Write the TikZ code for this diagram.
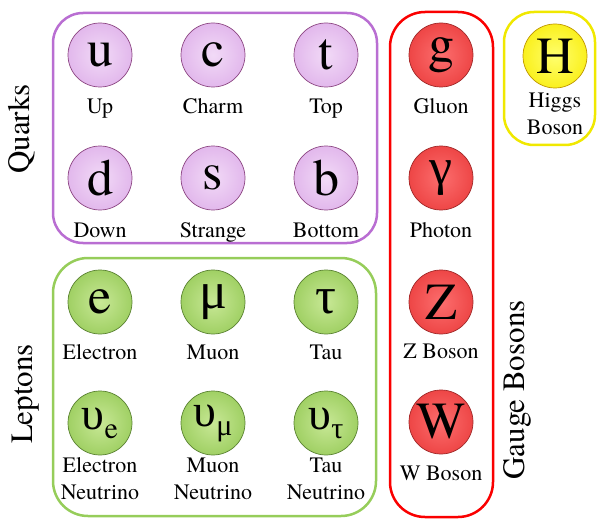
\documentclass[tikz,border=0pt]{standalone}
\usepackage{fontspec}
\setmainfont{TeX Gyre Termes}
\newfontfamily\greekfont{Liberation Serif}
\usetikzlibrary{positioning}
\definecolor{qbox}{RGB}{185,110,210}
\definecolor{qfill}{RGB}{226,184,236}
\definecolor{qlight}{RGB}{242,218,247}
\definecolor{qline}{RGB}{140,70,130}
\definecolor{lbox}{RGB}{150,205,90}
\definecolor{lfill}{RGB}{160,208,100}
\definecolor{llight}{RGB}{200,232,150}
\definecolor{lline}{RGB}{90,130,50}
\definecolor{gbox}{RGB}{250,0,0}
\definecolor{gfill}{RGB}{238,70,70}
\definecolor{glight}{RGB}{252,110,110}
\definecolor{gline}{RGB}{160,40,40}
\definecolor{hbox}{RGB}{240,232,0}
\definecolor{hfill}{RGB}{250,240,30}
\definecolor{hlight}{RGB}{255,255,110}
\definecolor{hline}{RGB}{190,150,0}
\tikzset{
    particle/.style={circle, line width=0.7pt, minimum size=64pt, inner sep=0pt,
        font=\fontsize{52}{52}\selectfont},
    quark/.style={particle, draw=qline, inner color=qlight, outer color=qfill},
    lepton/.style={particle, draw=lline, inner color=llight, outer color=lfill},
    gauge/.style={particle, draw=gline, inner color=glight, outer color=gfill},
    higgs/.style={particle, draw=hline, inner color=hlight, outer color=hfill},
    pname/.style={inner sep=0pt, font=\fontsize{22}{27}\selectfont, text height=15pt, text depth=5pt},
    twoline/.style={inner sep=0pt, font=\fontsize{22}{27}\selectfont, align=center},
    grouplabel/.style={font=\fontsize{31}{31}\selectfont, rotate=90},
    groupframe/.style={line width=2.5pt, rounded corners=#1}
}
\newcommand{\gr}[1]{{\greekfont #1}}
\newcommand{\sub}[2]{{\fontsize{46}{46}\selectfont #1}{\fontsize{30}{30}\selectfont\raisebox{-9pt}{#2}}}

\begin{document}
\begin{tikzpicture}[x=1pt, y=-1pt]
    \useasboundingbox (0,0) rectangle (598,519);

    % group frames
    \draw[groupframe=30pt, qbox] (53,13) rectangle (377,243);
    \draw[groupframe=35pt, lbox] (53,258) rectangle (376,516);
    \draw[groupframe=35pt, gbox] (390,12) rectangle (493,517);
    \draw[groupframe=30pt, hbox] (504,12) rectangle (595,145);

    % quarks
    \node[quark] (u) at (100,55) {u};
    \node[quark] (c) at (213,55) {c};
    \node[quark] (t) at (326,55) {t};
    \node[quark] (d) at (100,178) {d};
    \node[quark] (s) at (213,178) {s};
    \node[quark] (b) at (326,178) {b};
    \node[pname, below=11pt of u] (up) {Up};
    \node[pname, below=11pt of c] (charm) {Charm};
    \node[pname, below=11pt of t] (top) {Top};
    \node[pname, below=12pt of d] (down) {Down};
    \node[pname, below=12pt of s] (strange) {Strange};
    \node[pname, below=12pt of b] (bottom) {Bottom};

    % leptons
    \node[lepton] (e) at (100,302) {e};
    \node[lepton] (mu) at (213,302) {\gr{μ}};
    \node[lepton] (tau) at (326,302) {\gr{τ}};
    \node[lepton] (nue) at (100,423) {\sub{\gr{υ}}{e}};
    \node[lepton] (numu) at (213,423) {\sub{\gr{υ}}{\gr{μ}}};
    \node[lepton] (nutau) at (326,423) {\sub{\gr{υ}}{\gr{τ}}};
    \node[pname, below=10pt of e] (electron) {Electron};
    \node[pname, below=10pt of mu] (muon) {Muon};
    \node[pname, below=10pt of tau] (tauname) {Tau};
    \node[twoline, below=2pt of nue] (elnu) {Electron\\Neutrino};
    \node[twoline, below=2pt of numu] (munu) {Muon\\Neutrino};
    \node[twoline, below=2pt of nutau] (taunu) {Tau\\Neutrino};

    % gauge bosons
    \node[gauge] (g) at (441,55) {g};
    \node[gauge] (gamma) at (441,178) {\gr{γ}};
    \node[gauge] (Z) at (441,302) {Z};
    \node[gauge] (W) at (441,422) {W};
    \node[pname, below=11pt of g] (gluon) {Gluon};
    \node[pname, below=12pt of gamma] (photon) {Photon};
    \node[pname, below=9pt of Z] (zboson) {Z Boson};
    \node[pname, below=11pt of W] (wboson) {W Boson};

    % higgs
    \node[higgs] (H) at (555,56) {H};
    \node[twoline, below=4pt of H] (higgsname) {Higgs\\Boson};

    % group names
    \node[grouplabel] (quarks) at (22,129) {Quarks};
    \node[grouplabel] (leptons) at (26,394) {Leptons};
    \node[grouplabel] (gauges) at (517,390) {Gauge Bosons};
\end{tikzpicture}
\end{document}
